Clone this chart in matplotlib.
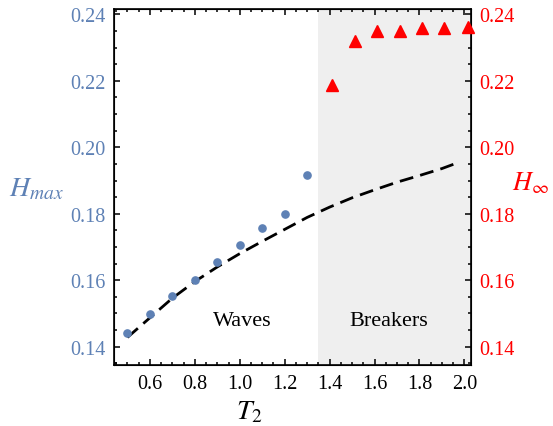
import numpy as np
import matplotlib
matplotlib.use("Agg")
import matplotlib.pyplot as plt
from matplotlib.ticker import MultipleLocator

plt.rcParams['font.family'] = ['Liberation Serif', 'DejaVu Serif']
plt.rcParams['mathtext.fontset'] = 'stix'

# wave data (blue dots, left axis)
T_waves = [0.5, 0.6, 0.7, 0.8, 0.9, 1.0, 1.1, 1.2, 1.3]
H_max = [0.1440, 0.1498, 0.1552, 0.1602, 0.1656, 0.1706, 0.1756, 0.1798, 0.1917]

# breakers (red triangles, right axis)
T_break = [1.41, 1.515, 1.613, 1.712, 1.813, 1.91, 2.015]
H_inf = [0.2186, 0.2321, 0.2350, 0.2349, 0.2358, 0.2358, 0.2362]

# dashed reference curve
T_curve = [0.5, 0.6, 0.7, 0.8, 0.9, 1.0, 1.1, 1.2, 1.3, 1.4, 1.5, 1.6, 1.7, 1.8, 1.9, 1.98]
H_curve = [0.1428, 0.1487, 0.1546, 0.1596, 0.1640, 0.1680, 0.1717, 0.1753, 0.1789,
           0.1820, 0.1848, 0.1872, 0.1895, 0.1915, 0.1936, 0.1956]

blue = '#5E81B5'
red = '#FF0000'
xlim = (0.44, 2.03)
ylim = (0.1346, 0.2416)

fig = plt.figure(figsize=(5.53, 4.27), dpi=100)
ax = fig.add_axes([0.206, 0.1436, 0.646, 0.833])
ax.axvspan(1.35, xlim[1], color='#EFEFEF', lw=0, zorder=0)

ax.plot(T_curve, H_curve, color='black', lw=2.0, dashes=(5, 2.6), zorder=2)
ax.plot(T_waves, H_max, 'o', color=blue, ms=5.2, zorder=3)

ax.text(1.01, 0.1478, 'Waves', ha='center', va='center', fontsize=16)
ax.text(1.663, 0.1478, 'Breakers', ha='center', va='center', fontsize=16)

ax.set_xlim(xlim)
ax.set_ylim(ylim)
ax.xaxis.set_major_locator(MultipleLocator(0.2))
ax.xaxis.set_minor_locator(MultipleLocator(0.05))
ax.yaxis.set_major_locator(MultipleLocator(0.02))
ax.yaxis.set_minor_locator(MultipleLocator(0.005))
ax.xaxis.set_major_formatter(plt.FuncFormatter(lambda v, p: '%.1f' % v))
ax.yaxis.set_major_formatter(plt.FuncFormatter(lambda v, p: '%.2f' % v))
ax.tick_params(which='both', direction='in', top=True, right=False, width=1.1)
ax.tick_params(which='major', length=4.5)
ax.tick_params(which='minor', length=2.2)
ax.tick_params(axis='x', labelsize=14.5, pad=7)
ax.tick_params(axis='y', labelsize=14.5, labelcolor=blue, pad=6)
for s in ax.spines.values():
    s.set_linewidth(1.2)

ax.set_xlabel(r'$T_2$', fontsize=20)
ax.xaxis.set_label_coords(0.38, -0.095)
ax.set_ylabel(r'$H_{max}$', fontsize=20, color=blue, rotation=0, va='center', ha='center')
ax.yaxis.set_label_coords(-0.218, 0.494)

ax2 = ax.twinx()
ax2.plot(T_break, H_inf, '^', color=red, ms=8.5, clip_on=False, zorder=3)
ax2.set_ylim(ylim)
ax2.yaxis.set_major_locator(MultipleLocator(0.02))
ax2.yaxis.set_minor_locator(MultipleLocator(0.005))
ax2.yaxis.set_major_formatter(plt.FuncFormatter(lambda v, p: '%.2f' % v))
ax2.tick_params(which='both', direction='in', width=1.1)
ax2.tick_params(which='major', length=4.5)
ax2.tick_params(which='minor', length=2.2)
ax2.tick_params(axis='y', labelsize=14.5, labelcolor=red, pad=6)
ax2.set_ylabel(r'$H_{\infty}$', fontsize=19, color=red, rotation=0, va='center', ha='center')
ax2.yaxis.set_label_coords(1.165, 0.513)

fig.savefig('out.png', dpi=100)
